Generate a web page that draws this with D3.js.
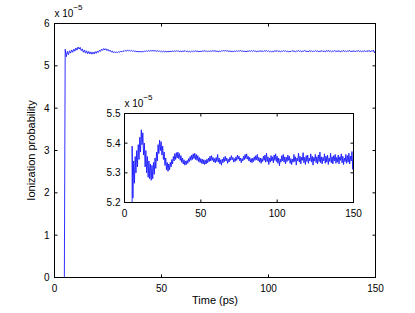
<!DOCTYPE html>
<html>
<head>
<meta charset="utf-8">
<script src="https://cdn.jsdelivr.net/npm/d3@7"></script>
<style>
  body { margin: 0; background: #fff; }
  text { font-family: "Liberation Sans", Arial, sans-serif; fill: #000; }
</style>
</head>
<body>
<div id="chart"></div>
<script>
// ionization probability, in units of 1e-5
const leadTime = [0, 4.6]
const leadValue = [0, 0]

const sampleStart = 5.0   // ps
const sampleStep = 0.5    // ps
const probability = [
  5.390, 5.215, 5.340, 5.265, 5.355, 5.300, 5.375, 5.320, 5.395, 5.345,
  5.420, 5.370, 5.445, 5.395, 5.435, 5.360, 5.400, 5.320, 5.375, 5.300,
  5.355, 5.285, 5.340, 5.280, 5.330, 5.275, 5.325, 5.280, 5.335, 5.295,
  5.350, 5.315, 5.370, 5.340, 5.395, 5.365, 5.410, 5.375, 5.405, 5.360,
  5.390, 5.345, 5.370, 5.325, 5.350, 5.310, 5.335, 5.305, 5.330, 5.310,
  5.335, 5.320, 5.345, 5.330, 5.355, 5.340, 5.365, 5.345, 5.368, 5.350,
  5.370, 5.348, 5.365, 5.342, 5.358, 5.335, 5.350, 5.330, 5.344, 5.326,
  5.340, 5.328, 5.342, 5.332, 5.348, 5.338, 5.355, 5.342, 5.360, 5.345,
  5.364, 5.348, 5.366, 5.345, 5.362, 5.342, 5.358, 5.338, 5.352, 5.335,
  5.348, 5.332, 5.346, 5.330, 5.344, 5.328, 5.342, 5.330, 5.346, 5.334,
  5.350, 5.338, 5.356, 5.340, 5.358, 5.342, 5.352, 5.336, 5.348, 5.334,
  5.352, 5.338, 5.362, 5.336, 5.350, 5.330, 5.344, 5.326, 5.346,
  5.334, 5.352, 5.338, 5.356, 5.340, 5.350, 5.332, 5.346, 5.336, 5.352,
  5.342, 5.358, 5.344, 5.352, 5.336, 5.348, 5.338, 5.354, 5.342, 5.360,
  5.346, 5.356, 5.340, 5.350, 5.334, 5.348, 5.340, 5.356, 5.344, 5.362,
  5.348, 5.364, 5.346, 5.356, 5.340, 5.352, 5.336, 5.348, 5.334, 5.350,
  5.338, 5.354, 5.342, 5.358, 5.344, 5.362, 5.340, 5.352, 5.336, 5.350,
  5.332, 5.348, 5.338, 5.356, 5.342, 5.360, 5.336, 5.366, 5.338, 5.354,
  5.328, 5.350, 5.336, 5.358, 5.340, 5.354, 5.334, 5.360, 5.342, 5.364,
  5.338, 5.356, 5.332, 5.350, 5.324, 5.346, 5.336, 5.358, 5.340, 5.362,
  5.336, 5.354, 5.330, 5.352, 5.338, 5.360, 5.342, 5.356, 5.332, 5.348,
  5.328, 5.346, 5.336, 5.362, 5.338, 5.354, 5.326, 5.350, 5.340, 5.366,
  5.336, 5.356, 5.330, 5.352, 5.342, 5.368, 5.334, 5.352, 5.328, 5.358,
  5.338, 5.360, 5.332, 5.350, 5.340, 5.364, 5.336, 5.356, 5.326, 5.352,
  5.340, 5.362, 5.334, 5.354, 5.330, 5.360, 5.338, 5.370, 5.334, 5.354,
  5.330, 5.352, 5.340, 5.364, 5.332, 5.356, 5.336, 5.360, 5.328, 5.350,
  5.338, 5.366, 5.334, 5.354, 5.330, 5.358, 5.340, 5.362, 5.332, 5.352,
  5.336, 5.360, 5.330, 5.354, 5.342, 5.364, 5.334, 5.356, 5.328, 5.350,
  5.338, 5.362, 5.332, 5.358, 5.336, 5.366, 5.330, 5.356, 5.340, 5.372,
  5.312, 5.360
]

const mainXTicks = [0, 50, 100, 150]
const mainYTicks = [0, 1, 2, 3, 4, 5, 6]
const insetXTicks = [0, 50, 100, 150]
const insetYTicks = [5.2, 5.3, 5.4, 5.5]

const width = 415, height = 313

const points = leadTime.map((t, i) => [t, leadValue[i]])
  .concat(probability.map((v, i) => [sampleStart + i * sampleStep, v]))

const svg = d3.select('#chart').append('svg')
  .attr('width', width)
  .attr('height', height)

function drawAxes(g, x, y, xTicks, yTicks, fmtY, yLabelDx) {
  const [x0, x1] = x.range()
  const [y0, y1] = y.range()
  const tick = 3

  g.append('rect')
    .attr('x', x0).attr('y', y1)
    .attr('width', x1 - x0).attr('height', y0 - y1)
    .attr('fill', 'white')

  const clipId = 'clip' + Math.round(x0)
  g.append('clipPath').attr('id', clipId)
    .append('rect')
    .attr('x', x0).attr('y', y1)
    .attr('width', x1 - x0).attr('height', y0 - y1)

  g.append('path')
    .datum(points)
    .attr('clip-path', `url(#${clipId})`)
    .attr('fill', 'none')
    .attr('stroke', '#1a1aff')
    .attr('stroke-width', 0.9)
    .attr('d', d3.line().x(d => x(d[0])).y(d => y(d[1])))

  // ticks on all four sides, pointing inward
  xTicks.forEach(t => {
    g.append('line').attr('x1', x(t)).attr('x2', x(t)).attr('y1', y0).attr('y2', y0 - tick).attr('stroke', '#000')
    g.append('line').attr('x1', x(t)).attr('x2', x(t)).attr('y1', y1).attr('y2', y1 + tick).attr('stroke', '#000')
    g.append('text').attr('x', x(t)).attr('y', y0 + 14)
      .attr('text-anchor', 'middle').style('font-size', '10px').text(t)
  })
  yTicks.forEach(t => {
    g.append('line').attr('x1', x0).attr('x2', x0 + tick).attr('y1', y(t)).attr('y2', y(t)).attr('stroke', '#000')
    g.append('line').attr('x1', x1).attr('x2', x1 - tick).attr('y1', y(t)).attr('y2', y(t)).attr('stroke', '#000')
    g.append('text').attr('x', x0 - yLabelDx).attr('y', y(t) + 3.5)
      .attr('text-anchor', 'end').style('font-size', '10px').text(fmtY(t))
  })

  g.append('rect')
    .attr('x', x0).attr('y', y1)
    .attr('width', x1 - x0).attr('height', y0 - y1)
    .attr('fill', 'none')
    .attr('stroke', '#000')
    .attr('stroke-width', 1)

  // exponent label
  const ex = g.append('text').attr('x', x0).attr('y', y1 - 7).style('font-size', '10px')
  ex.append('tspan').text('x 10')
  ex.append('tspan').attr('dy', -7).style('font-size', '8px').text('\u22125')
}

// main axes
const x = d3.scaleLinear().domain([0, 150]).range([54.5, 375.5])
const y = d3.scaleLinear().domain([0, 6]).range([277.5, 23.5])
drawAxes(svg.append('g'), x, y, mainXTicks, mainYTicks, d3.format('d'), 5)

svg.append('text')
  .attr('transform', `translate(35,${(y(0) + y(6)) / 2}) rotate(-90)`)
  .attr('text-anchor', 'middle')
  .style('font-size', '11px')
  .text('Ionization probability')

svg.append('text')
  .attr('x', (x(0) + x(150)) / 2)
  .attr('y', 304)
  .attr('text-anchor', 'middle')
  .style('font-size', '11px')
  .text('Time (ps)')

// inset axes
const xi = d3.scaleLinear().domain([0, 150]).range([124.5, 353.5])
const yi = d3.scaleLinear().domain([5.2, 5.5]).range([202.5, 113.5])
drawAxes(svg.append('g'), xi, yi, insetXTicks, insetYTicks, d3.format('.1f'), 4)
</script>
</body>
</html>
